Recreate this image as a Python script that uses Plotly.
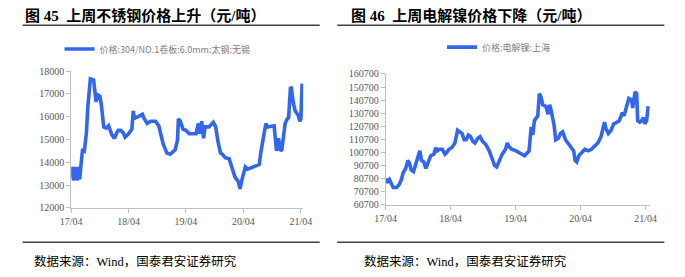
import plotly.graph_objects as go

W, H = 685, 277

# ---------------- data ----------------
ss_dates = [
    "2017-04-01", "2017-04-10", "2017-04-16", "2017-04-22", "2017-04-28", "2017-05-04", "2017-05-10",
    "2017-05-16", "2017-05-25", "2017-06-01", "2017-06-13", "2017-06-22", "2017-07-01", "2017-07-07",
    "2017-07-16", "2017-07-22", "2017-08-01", "2017-08-22", "2017-08-28", "2017-09-06", "2017-09-18",
    "2017-10-01", "2017-10-10", "2017-10-19", "2017-10-25", "2017-11-10", "2017-11-25", "2017-12-16",
    "2018-01-01", "2018-01-13", "2018-01-25", "2018-02-10", "2018-02-25", "2018-03-10", "2018-04-01",
    "2018-04-22", "2018-05-01", "2018-05-07", "2018-05-13", "2018-06-01", "2018-06-28", "2018-07-07",
    "2018-07-28", "2018-08-19", "2018-09-19", "2018-10-10", "2018-10-25", "2018-11-07", "2018-12-01",
    "2018-12-22", "2019-01-22", "2019-02-06", "2019-02-12", "2019-02-24", "2019-03-13", "2019-04-01",
    "2019-04-22", "2019-06-04", "2019-06-19", "2019-06-25", "2019-07-10", "2019-07-22", "2019-08-01",
    "2019-08-25", "2019-09-22", "2019-10-07", "2019-10-22", "2019-11-07", "2019-11-19", "2019-12-07",
    "2020-01-01", "2020-01-19", "2020-02-07", "2020-02-28", "2020-03-10", "2020-03-22", "2020-04-04",
    "2020-04-13", "2020-04-28", "2020-06-10", "2020-07-10", "2020-07-22", "2020-08-01", "2020-08-10",
    "2020-08-22", "2020-09-01", "2020-10-13", "2020-10-22", "2020-10-28", "2020-11-10", "2020-11-22",
    "2020-12-01", "2020-12-13", "2020-12-22", "2021-01-04", "2021-01-13", "2021-01-25", "2021-01-31",
    "2021-02-12", "2021-02-24", "2021-03-16", "2021-03-25", "2021-04-01", "2021-04-09",
]
ss_values = [
    13800, 13500, 13200, 13800, 13300, 13700, 13200,
    13800, 13250, 13800, 14600, 14400, 14900, 15300,
    16450, 17150, 17650, 17600, 17150, 16650, 16950,
    16900, 16500, 15700, 15550, 15500, 15600, 15200,
    15050, 15250, 15400, 15400, 15300, 15100, 15250,
    15450, 16250, 15900, 15950, 16000, 16100, 15950,
    15700, 15800, 15800, 15600, 15200, 14800, 14400,
    14350, 14550, 14950, 15900, 15800, 15450, 15400,
    15250, 15250, 15700, 15250, 15800, 15050, 15550,
    15550, 15750, 15550, 14900, 14400, 14350, 14200,
    14150, 13800, 13350, 13150, 12830, 13230, 13600,
    13800, 13700, 13800, 13900, 14500, 15050, 15250,
    15700, 15550, 15600, 14900, 14500, 15050, 14500,
    14550, 15200, 15700, 15900, 15950, 17300, 17250,
    16600, 16250, 16050, 15800, 15900, 17450,
]

ni_dates = [
    "2017-04-01", "2017-04-07", "2017-04-22", "2017-05-04", "2017-05-13", "2017-06-01", "2017-06-16",
    "2017-06-28", "2017-07-07", "2017-07-22", "2017-08-04", "2017-08-13", "2017-08-22", "2017-09-04",
    "2017-09-19", "2017-10-04", "2017-10-10", "2017-10-19", "2017-11-01", "2017-11-13", "2017-11-28",
    "2017-12-10", "2017-12-28", "2018-01-07", "2018-01-16", "2018-01-28", "2018-02-13", "2018-02-28",
    "2018-03-10", "2018-03-22", "2018-04-07", "2018-04-25", "2018-05-10", "2018-05-22", "2018-06-04",
    "2018-06-16", "2018-06-28", "2018-07-10", "2018-07-22", "2018-08-04", "2018-08-16", "2018-09-01",
    "2018-09-13", "2018-09-28", "2018-10-16", "2018-11-04", "2018-11-22", "2018-12-04", "2018-12-16",
    "2018-12-28", "2019-01-16", "2019-02-04", "2019-02-13", "2019-02-22", "2019-03-10", "2019-04-04",
    "2019-04-25", "2019-05-13", "2019-05-22", "2019-06-07", "2019-06-16", "2019-06-28", "2019-07-07",
    "2019-07-16", "2019-07-25", "2019-08-04", "2019-08-13", "2019-08-22", "2019-09-01", "2019-09-19",
    "2019-10-01", "2019-10-10", "2019-10-19", "2019-11-04", "2019-11-13", "2019-11-28", "2019-12-10",
    "2019-12-22", "2020-01-07", "2020-01-25", "2020-02-13", "2020-02-22", "2020-03-01", "2020-03-10",
    "2020-03-22", "2020-04-07", "2020-04-25", "2020-05-13", "2020-06-01", "2020-06-19", "2020-07-07",
    "2020-07-25", "2020-08-13", "2020-08-22", "2020-09-04", "2020-09-19", "2020-10-04", "2020-10-22",
    "2020-11-04", "2020-11-22", "2020-12-01", "2020-12-16", "2020-12-28", "2021-01-13", "2021-01-19",
    "2021-02-01", "2021-02-10", "2021-02-16", "2021-02-28", "2021-03-10", "2021-03-19", "2021-03-28",
    "2021-04-07", "2021-04-16",
]
ni_values = [
    81000, 77700, 80100, 76500, 74000, 74000, 76500,
    80100, 85000, 88600, 94700, 92250, 87400, 86200,
    93500, 98300, 102000, 94700, 93500, 88600, 93500,
    98300, 99500, 104400, 102000, 103200, 103200, 99500,
    100700, 103200, 104400, 108000, 117700, 116500, 115300,
    110500, 110500, 114100, 112900, 109300, 108000, 111700,
    112900, 109300, 106800, 102000, 95900, 91000, 89800,
    93500, 99500, 103200, 108000, 105600, 103200, 102000,
    100700, 99500, 98300, 100700, 102000, 120200, 114100,
    125000, 126300, 128700, 145700, 143200, 137200, 135900,
    129900, 137200, 132300, 121400, 110500, 111700, 115300,
    116500, 110500, 106800, 103200, 102000, 94700, 93500,
    98300, 100700, 103200, 102000, 103200, 105600, 108000,
    112900, 123800, 118900, 115300, 117700, 122600, 123800,
    125000, 131100, 128700, 136000, 142000, 140800, 134700,
    146900, 145700, 125000, 123800, 125000, 127500, 122600,
    125000, 136000,
]

tick_dates = ["2017-04-01", "2018-04-01", "2019-04-01", "2020-04-01", "2021-04-01"]
tick_text = ["17/04", "18/04", "19/04", "20/04", "21/04"]
ss_yticks = [12000, 13000, 14000, 15000, 16000, 17000, 18000]
ni_yticks = [60700, 70700, 80700, 90700, 100700, 110700, 120700, 130700, 140700, 150700, 160700]

titles = ["图 45  上周不锈钢价格上升（元/吨）", "图 46  上周电解镍价格下降（元/吨）"]
names = ["价格:304/NO.1卷板:6.0mm:太钢:无锡", "价格:电解镍:上海"]
source = "数据来源：Wind，国泰君安证券研究"

# ---------------- styling ----------------
BLUE = "#3366EE"
AX = "#BFBFBF"
TICKFONT = dict(family="Liberation Serif", size=10, color="#595959")
CJK = "Liberation Serif, Noto Sans CJK SC"


def px_x(p):
    return p / W


def px_y(p):
    return 1 - p / H


fig = go.Figure()
fig.add_trace(go.Scatter(x=ss_dates, y=ss_values, mode="lines", name=names[0],
                         line=dict(color=BLUE, width=3.6), xaxis="x", yaxis="y", legend="legend"))
fig.add_trace(go.Scatter(x=ni_dates, y=ni_values, mode="lines", name=names[1],
                         line=dict(color=BLUE, width=3.6), xaxis="x2", yaxis="y2", legend="legend2"))

common_x = dict(type="date", tickmode="array", tickvals=tick_dates, ticktext=tick_text,
                showline=True, linecolor=AX, linewidth=1, ticks="outside", ticklen=4,
                tickcolor=AX, showgrid=False, zeroline=False, tickfont=TICKFONT, fixedrange=True)
common_y = dict(showline=True, linecolor=AX, linewidth=1, ticks="outside", ticklen=4,
                tickcolor=AX, showgrid=False, zeroline=False, tickfont=TICKFONT, fixedrange=True,
                tickformat="d", tickmode="array")

fig.update_layout(
    width=W, height=H,
    margin=dict(l=0, r=0, t=0, b=0),
    paper_bgcolor="white", plot_bgcolor="white",
    showlegend=True,
    xaxis=dict(domain=[px_x(62), px_x(301)], range=["2017-04-01", "2021-04-16"], anchor="y", **common_x),
    yaxis=dict(domain=[px_y(211), px_y(68)], range=[12000, 18000], tickvals=ss_yticks,
               ticktext=[str(v) for v in ss_yticks], anchor="x", **common_y),
    xaxis2=dict(domain=[px_x(386), px_x(658)], range=["2017-04-01", "2021-04-25"], anchor="y2", **common_x),
    yaxis2=dict(domain=[px_y(208), px_y(71)], range=[60700, 160700], tickvals=ni_yticks,
                ticktext=[str(v) for v in ni_yticks], anchor="x2", **common_y),
    legend=dict(x=px_x(50), y=px_y(45), xanchor="left", yanchor="middle", orientation="h",
                font=dict(family="Noto Sans CJK SC", size=9, color="#7F7F7F"), bgcolor="rgba(0,0,0,0)"),
    legend2=dict(x=px_x(444), y=px_y(43), xanchor="left", yanchor="middle", orientation="h",
                 font=dict(family="Noto Sans CJK SC", size=9, color="#7F7F7F"), bgcolor="rgba(0,0,0,0)"),
)

# titles, rules, sources
for x0, title in [(12, titles[0]), (348, titles[1])]:
    fig.add_annotation(x=px_x(x0), y=px_y(10), xref="paper", yref="paper", text="<b>" + title + "</b>",
                       showarrow=False, xanchor="left", yanchor="middle",
                       font=dict(family=CJK, size=15, color="#000000"))
for x0, x1 in [(12, 318), (336, 673)]:
    fig.add_shape(type="line", xref="paper", yref="paper", x0=px_x(x0), x1=px_x(x1),
                  y0=px_y(20), y1=px_y(20), line=dict(color="#404040", width=1.5))
    fig.add_shape(type="line", xref="paper", yref="paper", x0=px_x(x0), x1=px_x(x1),
                  y0=px_y(247), y1=px_y(247), line=dict(color="#404040", width=1.5))
for x0 in [22, 362]:
    fig.add_annotation(x=px_x(x0), y=px_y(267), xref="paper", yref="paper", text=source,
                       showarrow=False, xanchor="left", yanchor="middle",
                       font=dict(family=CJK, size=12.5, color="#000000"))

fig.write_html("out.html", config=dict(displayModeBar=False, staticPlot=True))
